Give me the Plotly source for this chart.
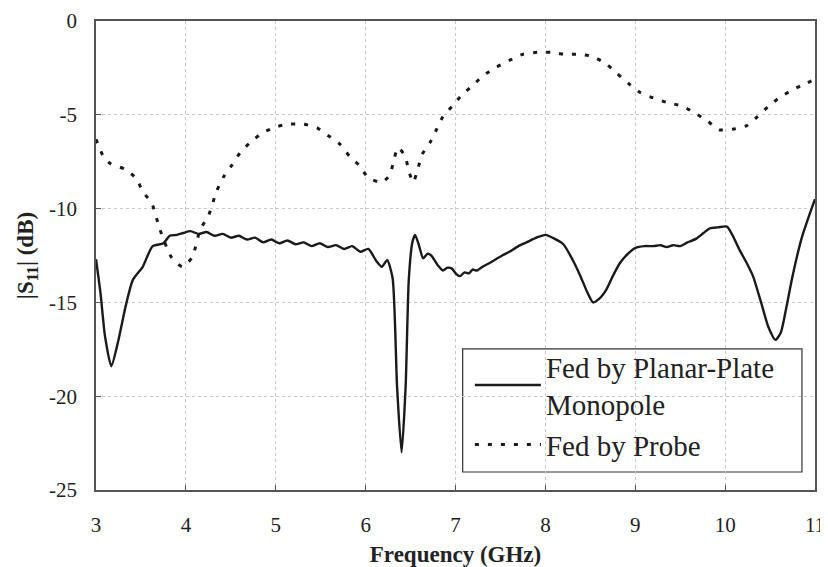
import plotly.graph_objects as go

# Fed by Planar-Plate Monopole (solid)
freq_plate = [3.00, 3.05, 3.10, 3.17, 3.25, 3.33, 3.41, 3.52, 3.63, 3.75, 3.82, 3.90, 3.97,
              4.05, 4.14, 4.23, 4.32, 4.41, 4.50, 4.59, 4.68, 4.77, 4.86, 4.95, 5.04, 5.13,
              5.22, 5.31, 5.40, 5.49, 5.58, 5.67, 5.76, 5.85, 5.94, 6.03, 6.12, 6.18, 6.24,
              6.30, 6.35, 6.40, 6.445, 6.48, 6.52, 6.55, 6.59, 6.64, 6.69, 6.73, 6.80, 6.86,
              6.91, 6.96, 7.01, 7.05, 7.10, 7.15, 7.19, 7.24, 7.30, 7.38, 7.45, 7.52, 7.60,
              7.70, 7.79, 7.90, 8.00, 8.10, 8.20, 8.30, 8.39, 8.47, 8.53, 8.60, 8.68, 8.75,
              8.83, 8.92, 9.00, 9.10, 9.20, 9.28, 9.35, 9.42, 9.50, 9.58, 9.68, 9.76, 9.83,
              9.92, 10.02, 10.08, 10.16, 10.24, 10.31, 10.40, 10.48, 10.56, 10.62, 10.68,
              10.75, 10.85, 10.94, 11.00]
s11_plate = [-12.7, -14.5, -16.8, -18.4, -17.0, -15.2, -13.8, -13.1, -12.0, -11.85, -11.45, -11.4, -11.3,
             -11.2, -11.35, -11.25, -11.45, -11.35, -11.55, -11.45, -11.65, -11.55, -11.8, -11.65, -11.85, -11.7,
             -11.9, -11.8, -12.0, -11.85, -12.05, -11.95, -12.15, -12.0, -12.3, -12.15, -12.8, -13.1, -12.75,
             -13.7, -19.5, -23.0, -19.5, -13.8, -11.8, -11.4, -11.9, -12.65, -12.4, -12.5, -13.0, -13.3,
             -13.15, -13.2, -13.5, -13.6, -13.4, -13.45, -13.25, -13.3, -13.1, -12.9, -12.7, -12.5, -12.3,
             -12.0, -11.8, -11.55, -11.4, -11.6, -11.9, -12.7, -13.6, -14.5, -15.0, -14.8, -14.3, -13.6,
             -12.9, -12.4, -12.1, -12.0, -12.0, -11.95, -12.05, -11.95, -12.0, -11.8, -11.6, -11.3, -11.05,
             -11.0, -10.96, -11.4, -12.2, -12.9, -13.6, -15.0, -16.3, -17.0, -16.6, -15.3,
             -13.6, -11.6, -10.3, -9.5]

# Fed by Probe (dotted)
freq_probe = [3.00, 3.08, 3.16, 3.32, 3.45, 3.52, 3.62, 3.71, 3.84, 3.96, 4.07, 4.16, 4.25, 4.34,
              4.42, 4.51, 4.60, 4.71, 4.85, 5.01, 5.15, 5.31, 5.46, 5.58, 5.71, 5.82, 5.93, 6.03,
              6.18, 6.27, 6.31, 6.36, 6.44, 6.48, 6.53, 6.58, 6.63, 6.72, 6.79, 6.86, 6.97, 7.07,
              7.20, 7.31, 7.46, 7.60, 7.75, 7.91, 8.07, 8.21, 8.38, 8.53, 8.68, 8.80, 8.93, 9.05,
              9.20, 9.36, 9.53, 9.66, 9.81, 9.93, 10.08, 10.24, 10.36, 10.48, 10.60, 10.75, 10.90, 11.00]
s11_probe = [-6.3, -7.2, -7.6, -7.9, -8.4, -9.1, -9.7, -11.1, -12.6, -13.1, -12.6, -11.1, -10.4, -9.1,
             -8.3, -7.7, -7.05, -6.5, -5.97, -5.63, -5.5, -5.5, -5.7, -6.1, -6.55, -7.2, -7.7, -8.35,
             -8.6, -8.2, -7.5, -6.75, -7.2, -8.0, -8.6, -7.9, -7.1, -6.45, -5.77, -5.1, -4.5, -3.95,
             -3.4, -2.9, -2.45, -2.1, -1.77, -1.67, -1.67, -1.77, -1.77, -1.9, -2.3, -2.8, -3.35, -3.8,
             -4.1, -4.35, -4.55, -4.9, -5.35, -5.8, -5.77, -5.58, -5.1, -4.55, -4.1, -3.67, -3.33, -3.1]

x_ticks = [3, 4, 5, 6, 7, 8, 9, 10, 11]
x_tick_labels = ["3", "4", "5", "6", "7", "8", "9", "10", "11"]
y_ticks = [0, -5, -10, -15, -20, -25]
y_tick_labels = ["0", "-5", "-10", "-15", "-20", "-25"]

FONT = "Liberation Serif"

fig = go.Figure()
fig.add_trace(go.Scatter(x=freq_plate, y=s11_plate, mode="lines",
                         name="Fed by Planar-Plate<br>Monopole",
                         line=dict(color="#1a1a1a", width=2.4, shape="spline", smoothing=0.6)))
fig.add_trace(go.Scatter(x=freq_probe, y=s11_probe, mode="lines",
                         name="Fed by Probe",
                         line=dict(color="#1a1a1a", width=3, dash="4px,9px", shape="spline", smoothing=0.6)))

# legend frame (white box, drawn above the grid and below the curves)
fig.add_shape(type="rect", xref="x", yref="y", x0=7.08, x1=10.855, y0=-24.04, y1=-17.48,
              layer="below", fillcolor="white", line=dict(color="#333333", width=1.2))

axis_common = dict(showline=True, linecolor="#555555", linewidth=1.5, mirror=True,
                   ticks="inside", ticklen=5, tickcolor="#555555", automargin=False,
                   showgrid=True, gridcolor="#c8c8c8", griddash="dot", gridwidth=1,
                   zeroline=False, tickfont=dict(family=FONT, size=21, color="#222222"))

# page body adds an 8px offset; figure sized so plot area lands at x 96-815, y 21-490
fig.update_layout(
    width=820, height=559,
    margin=dict(l=88, r=13, t=13, b=77),
    paper_bgcolor="white", plot_bgcolor="white",
    font=dict(family=FONT, color="#222222"),
    xaxis=dict(range=[3, 11], tickvals=x_ticks, ticktext=x_tick_labels, ticklabelstandoff=15,
               title=dict(text="<b>Frequency (GHz)</b>", font=dict(family=FONT, size=23), standoff=10),
               **axis_common),
    yaxis=dict(range=[-25, 0], tickvals=y_ticks, ticktext=y_tick_labels, ticklabelstandoff=13,
               title=dict(text="<b>|S<sub>11</sub>| (dB)</b>", font=dict(family=FONT, size=23), standoff=9),
               **axis_common),
    legend=dict(x=0.52, y=0.318, xanchor="left", yanchor="top",
                borderwidth=0, bgcolor="rgba(0,0,0,0)",
                font=dict(family=FONT, size=29, color="#222222"),
                itemwidth=66, tracegroupgap=0),
    showlegend=True,
)

fig.write_html("out.html")
